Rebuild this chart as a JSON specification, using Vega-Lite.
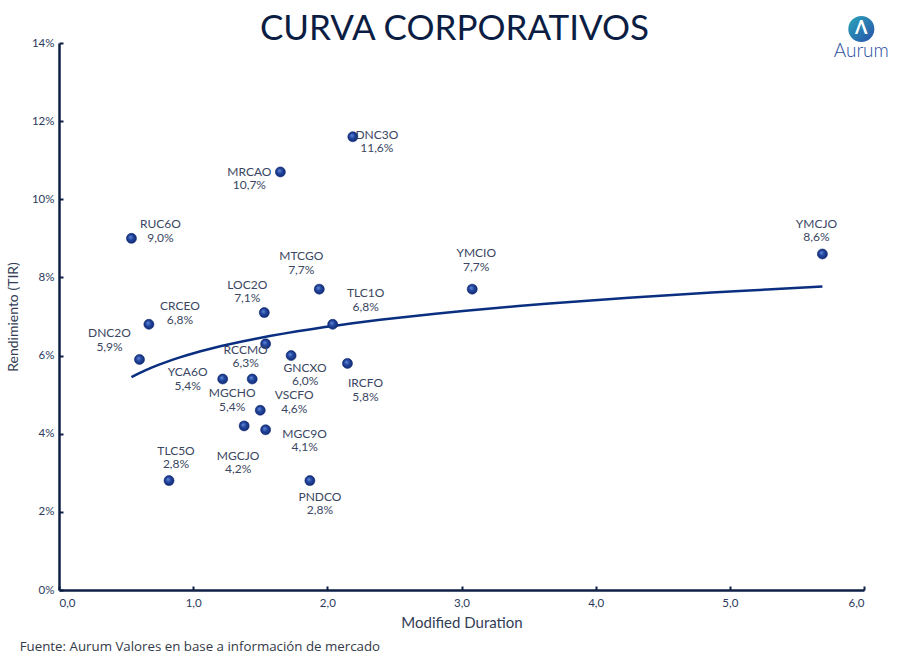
{
  "$schema": "https://vega.github.io/schema/vega-lite/v6.json",
  "width": 805,
  "height": 547,
  "autosize": {"type": "none"},
  "padding": {"left": 59, "top": 43, "right": 46, "bottom": 71},
  "background": "white",
  "title": {
    "text": "CURVA CORPORATIVOS",
    "anchor": "middle",
    "frame": "group",
    "font": "Lato",
    "fontSize": 35,
    "fontWeight": "normal",
    "color": "#0b1d43",
    "offset": 2,
    "dx": -7,
    "dy": 33
  },
  "config": {
    "view": {"stroke": null},
    "font": "Lato"
  },
  "datasets": {
    "bonds": [
      {"name": "DNC3O", "md": 2.19, "tir": 11.6},
      {"name": "MRCAO", "md": 1.65, "tir": 10.7},
      {"name": "RUC6O", "md": 0.54, "tir": 9.0},
      {"name": "YMCJO", "md": 5.69, "tir": 8.6},
      {"name": "MTCGO", "md": 1.94, "tir": 7.7},
      {"name": "YMCIO", "md": 3.08, "tir": 7.7},
      {"name": "LOC2O", "md": 1.53, "tir": 7.1},
      {"name": "CRCEO", "md": 0.67, "tir": 6.8},
      {"name": "TLC1O", "md": 2.04, "tir": 6.8},
      {"name": "RCCMO", "md": 1.54, "tir": 6.3},
      {"name": "GNCXO", "md": 1.73, "tir": 6.0},
      {"name": "DNC2O", "md": 0.60, "tir": 5.9},
      {"name": "IRCFO", "md": 2.15, "tir": 5.8},
      {"name": "YCA6O", "md": 1.22, "tir": 5.4},
      {"name": "MGCHO", "md": 1.44, "tir": 5.4},
      {"name": "VSCFO", "md": 1.50, "tir": 4.6},
      {"name": "MGCJO", "md": 1.38, "tir": 4.2},
      {"name": "MGC9O", "md": 1.54, "tir": 4.1},
      {"name": "TLC5O", "md": 0.82, "tir": 2.8},
      {"name": "PNDCO", "md": 1.87, "tir": 2.8}
    ],
    "notes": [
      {"source": "Fuente: Aurum Valores en base a información  de mercado", "brand": "Aurum"}
    ]
  },
  "layer": [
    {
      "data": {"name": "bonds"},
      "transform": [
        {"calculate": "datum.name + '\\n' + replace(format(datum.tir, '.1f'), '.', ',') + '%'", "as": "label"}
      ],
      "encoding": {
        "x": {
          "field": "md",
          "type": "quantitative",
          "scale": {"domain": [0, 6], "nice": false, "zero": true},
          "axis": {
            "title": "Modified Duration",
            "values": [0, 1, 2, 3, 4, 5, 6],
            "labelExpr": "replace(format(datum.value, '.1f'), '.', ',')",
            "grid": false,
            "domainColor": "#0d1f44",
            "domainWidth": 2.5,
            "tickColor": "#0d1f44",
            "tickWidth": 2,
            "tickSize": -4,
            "labelPadding": 11,
            "labelFont": "Lato",
            "labelFontSize": 11.5,
            "labelColor": "#2b3a5e",
            "titleFont": "Lato",
            "titleFontSize": 15,
            "titleFontWeight": "normal",
            "titleColor": "#333d55",
            "titlePadding": 7
          }
        },
        "y": {
          "field": "tir",
          "type": "quantitative",
          "scale": {"domain": [0, 14], "nice": false, "zero": true},
          "axis": {
            "title": "Rendimiento (TIR)",
            "values": [0, 2, 4, 6, 8, 10, 12, 14],
            "labelExpr": "datum.value + '%'",
            "grid": false,
            "domainColor": "#0d1f44",
            "domainWidth": 2.5,
            "tickColor": "#0d1f44",
            "tickWidth": 2,
            "tickSize": -4,
            "labelPadding": 9,
            "labelFont": "Lato",
            "labelFontSize": 11.5,
            "labelColor": "#2b3a5e",
            "titleFont": "Lato",
            "titleFontSize": 14,
            "titleFontWeight": "normal",
            "titleColor": "#333d55",
            "titlePadding": 11
          }
        }
      },
      "layer": [
        {
          "transform": [{"regression": "tir", "on": "md", "method": "log"}],
          "mark": {"type": "line", "color": "#0b2f80", "strokeWidth": 2.5}
        },
        {
          "mark": {
            "type": "point",
            "filled": true,
            "size": 100,
            "opacity": 1,
            "stroke": "#0e2670",
            "strokeWidth": 0.6,
            "fill": {
              "gradient": "radial",
              "x1": 0.38, "y1": 0.35, "r1": 0,
              "x2": 0.5, "y2": 0.5, "r2": 0.55,
              "stops": [
                {"offset": 0, "color": "#6a8ee0"},
                {"offset": 0.45, "color": "#24489f"},
                {"offset": 1, "color": "#0e2670"}
              ]
            }
          }
        },
        {"transform": [{"filter": "datum.name === 'DNC3O'"}], "mark": {"type": "text", "dx": 24, "dy": -2, "lineBreak": "\n", "lineHeight": 13.5, "fontSize": 12, "color": "#3a4662", "baseline": "middle"}, "encoding": {"text": {"field": "label"}}},
        {"transform": [{"filter": "datum.name === 'MRCAO'"}], "mark": {"type": "text", "dx": -31, "dy": 0, "lineBreak": "\n", "lineHeight": 13.5, "fontSize": 12, "color": "#3a4662", "baseline": "middle"}, "encoding": {"text": {"field": "label"}}},
        {"transform": [{"filter": "datum.name === 'RUC6O'"}], "mark": {"type": "text", "dx": 29, "dy": -14, "lineBreak": "\n", "lineHeight": 13.5, "fontSize": 12, "color": "#3a4662", "baseline": "middle"}, "encoding": {"text": {"field": "label"}}},
        {"transform": [{"filter": "datum.name === 'YMCJO'"}], "mark": {"type": "text", "dx": -6, "dy": -30, "lineBreak": "\n", "lineHeight": 13.5, "fontSize": 12, "color": "#3a4662", "baseline": "middle"}, "encoding": {"text": {"field": "label"}}},
        {"transform": [{"filter": "datum.name === 'MTCGO'"}], "mark": {"type": "text", "dx": -18, "dy": -33, "lineBreak": "\n", "lineHeight": 13.5, "fontSize": 12, "color": "#3a4662", "baseline": "middle"}, "encoding": {"text": {"field": "label"}}},
        {"transform": [{"filter": "datum.name === 'YMCIO'"}], "mark": {"type": "text", "dx": 4, "dy": -36, "lineBreak": "\n", "lineHeight": 13.5, "fontSize": 12, "color": "#3a4662", "baseline": "middle"}, "encoding": {"text": {"field": "label"}}},
        {"transform": [{"filter": "datum.name === 'LOC2O'"}], "mark": {"type": "text", "dx": -17, "dy": -28, "lineBreak": "\n", "lineHeight": 13.5, "fontSize": 12, "color": "#3a4662", "baseline": "middle"}, "encoding": {"text": {"field": "label"}}},
        {"transform": [{"filter": "datum.name === 'CRCEO'"}], "mark": {"type": "text", "dx": 31, "dy": -18, "lineBreak": "\n", "lineHeight": 13.5, "fontSize": 12, "color": "#3a4662", "baseline": "middle"}, "encoding": {"text": {"field": "label"}}},
        {"transform": [{"filter": "datum.name === 'TLC1O'"}], "mark": {"type": "text", "dx": 33, "dy": -31, "lineBreak": "\n", "lineHeight": 13.5, "fontSize": 12, "color": "#3a4662", "baseline": "middle"}, "encoding": {"text": {"field": "label"}}},
        {"transform": [{"filter": "datum.name === 'RCCMO'"}], "mark": {"type": "text", "dx": -20, "dy": 6, "lineBreak": "\n", "lineHeight": 13.5, "fontSize": 12, "color": "#3a4662", "baseline": "middle"}, "encoding": {"text": {"field": "label"}}},
        {"transform": [{"filter": "datum.name === 'GNCXO'"}], "mark": {"type": "text", "dx": 14, "dy": 12, "lineBreak": "\n", "lineHeight": 13.5, "fontSize": 12, "color": "#3a4662", "baseline": "middle"}, "encoding": {"text": {"field": "label"}}},
        {"transform": [{"filter": "datum.name === 'DNC2O'"}], "mark": {"type": "text", "dx": -30, "dy": -26, "lineBreak": "\n", "lineHeight": 13.5, "fontSize": 12, "color": "#3a4662", "baseline": "middle"}, "encoding": {"text": {"field": "label"}}},
        {"transform": [{"filter": "datum.name === 'IRCFO'"}], "mark": {"type": "text", "dx": 18, "dy": 20, "lineBreak": "\n", "lineHeight": 13.5, "fontSize": 12, "color": "#3a4662", "baseline": "middle"}, "encoding": {"text": {"field": "label"}}},
        {"transform": [{"filter": "datum.name === 'YCA6O'"}], "mark": {"type": "text", "dx": -35, "dy": -7, "lineBreak": "\n", "lineHeight": 13.5, "fontSize": 12, "color": "#3a4662", "baseline": "middle"}, "encoding": {"text": {"field": "label"}}},
        {"transform": [{"filter": "datum.name === 'MGCHO'"}], "mark": {"type": "text", "dx": -20, "dy": 14, "lineBreak": "\n", "lineHeight": 13.5, "fontSize": 12, "color": "#3a4662", "baseline": "middle"}, "encoding": {"text": {"field": "label"}}},
        {"transform": [{"filter": "datum.name === 'VSCFO'"}], "mark": {"type": "text", "dx": 34, "dy": -15, "lineBreak": "\n", "lineHeight": 13.5, "fontSize": 12, "color": "#3a4662", "baseline": "middle"}, "encoding": {"text": {"field": "label"}}},
        {"transform": [{"filter": "datum.name === 'MGCJO'"}], "mark": {"type": "text", "dx": -6, "dy": 30, "lineBreak": "\n", "lineHeight": 13.5, "fontSize": 12, "color": "#3a4662", "baseline": "middle"}, "encoding": {"text": {"field": "label"}}},
        {"transform": [{"filter": "datum.name === 'MGC9O'"}], "mark": {"type": "text", "dx": 39, "dy": 4, "lineBreak": "\n", "lineHeight": 13.5, "fontSize": 12, "color": "#3a4662", "baseline": "middle"}, "encoding": {"text": {"field": "label"}}},
        {"transform": [{"filter": "datum.name === 'TLC5O'"}], "mark": {"type": "text", "dx": 7, "dy": -30, "lineBreak": "\n", "lineHeight": 13.5, "fontSize": 12, "color": "#3a4662", "baseline": "middle"}, "encoding": {"text": {"field": "label"}}},
        {"transform": [{"filter": "datum.name === 'PNDCO'"}], "mark": {"type": "text", "dx": 10, "dy": 16, "lineBreak": "\n", "lineHeight": 13.5, "fontSize": 12, "color": "#3a4662", "baseline": "middle"}, "encoding": {"text": {"field": "label"}}}
      ]
    },
    {
      "data": {"name": "notes"},
      "layer": [
        {
          "mark": {"type": "text", "align": "left", "baseline": "middle", "font": "Open Sans", "fontSize": 13.3, "color": "#333a48"},
          "encoding": {
            "x": {"datum": -0.293, "type": "quantitative"},
            "y": {"datum": -1.47, "type": "quantitative"},
            "text": {"field": "source"}
          }
        },
        {
          "mark": {
            "type": "point", "filled": true, "size": 680, "opacity": 1,
            "fill": {
              "gradient": "linear", "x1": 0, "y1": 0, "x2": 1, "y2": 1,
              "stops": [{"offset": 0, "color": "#2aa5bb"}, {"offset": 1, "color": "#2852a8"}]
            }
          },
          "encoding": {
            "x": {"datum": 5.98, "type": "quantitative"},
            "y": {"datum": 14.36, "type": "quantitative"}
          }
        },
        {
          "mark": {"type": "text", "fontSize": 18, "fontWeight": "bold", "color": "white", "baseline": "middle"},
          "encoding": {
            "x": {"datum": 5.98, "type": "quantitative"},
            "y": {"datum": 14.36, "type": "quantitative"},
            "text": {"value": "Λ"}
          }
        },
        {
          "mark": {"type": "text", "fontSize": 19, "fontWeight": 300, "color": "#2a4ea3", "baseline": "middle"},
          "encoding": {
            "x": {"datum": 5.98, "type": "quantitative"},
            "y": {"datum": 13.8, "type": "quantitative"},
            "text": {"field": "brand"}
          }
        }
      ]
    }
  ]
}
